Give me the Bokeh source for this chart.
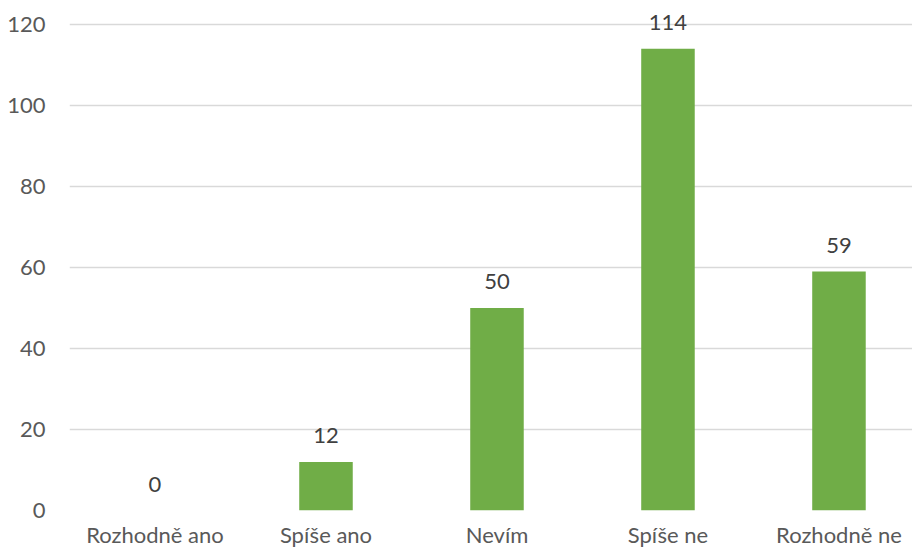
from bokeh.plotting import figure
from bokeh.models import Range1d, ColumnDataSource, FixedTicker
from bokeh.core.properties import value
from bokeh.embed import file_html
from bokeh.resources import INLINE

categories = ["Rozhodně ano", "Spíše ano", "Nevím", "Spíše ne", "Rozhodně ne"]
counts = [0, 12, 50, 114, 59]
y_ticks = [0, 20, 40, 60, 80, 100, 120]

xs = list(range(len(categories)))
src = ColumnDataSource(dict(x=xs, top=counts, label=[str(c) for c in counts]))

p = figure(width=912, height=550, output_backend="svg", toolbar_location=None,
           x_range=Range1d(-0.5, 4.43), y_range=Range1d(0, 125.9),
           min_border_left=69, min_border_right=0, min_border_top=0, min_border_bottom=40)
p.outline_line_color = None
p.background_fill_color = "white"
p.border_fill_color = "white"

p.vbar(x="x", top="top", width=0.313, bottom=0, source=src, fill_color="#70AD47", line_color=None)
p.text(x="x", y="top", text="label", source=src, text_align="center", text_baseline="middle",
       y_offset=-26, text_font=value("Lato"), text_font_size="22px", text_color="#404040")

p.yaxis.ticker = FixedTicker(ticks=y_ticks)
p.xaxis.ticker = FixedTicker(ticks=xs)
p.xaxis.major_label_overrides = {i: c for i, c in enumerate(categories)}
for ax in (p.xaxis, p.yaxis):
    ax.axis_line_color = None
    ax.major_tick_line_color = None
    ax.minor_tick_line_color = None
    ax.major_label_text_font = "Lato"
    ax.major_label_text_font_size = "22px"
    ax.major_label_text_color = "#595959"
p.yaxis.major_label_standoff = 18
p.xaxis.major_label_standoff = 4
p.xgrid.grid_line_color = None
p.ygrid.grid_line_color = "#D9D9D9"
p.ygrid.grid_line_width = 1.5
p.ygrid.ticker = FixedTicker(ticks=y_ticks)

open("out.html", "w").write(file_html(p, INLINE))
